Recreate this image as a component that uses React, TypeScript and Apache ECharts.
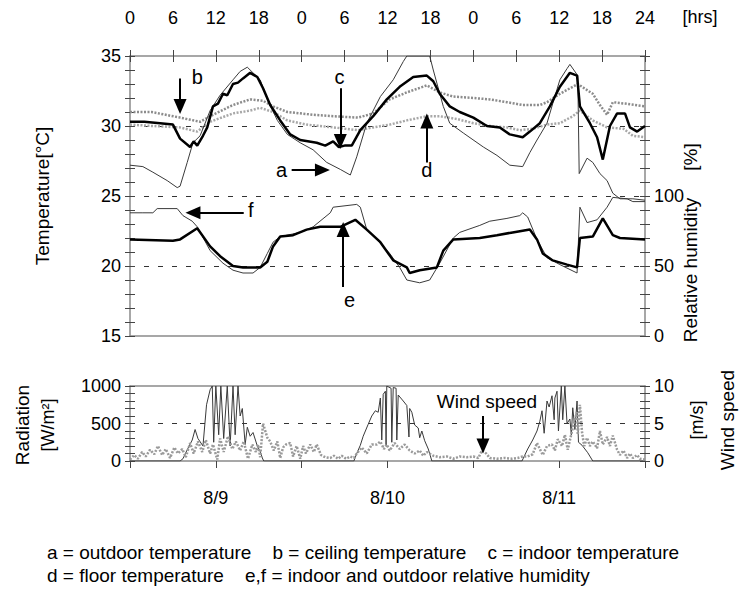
import React, { useEffect, useRef } from 'react';
import * as echarts from 'echarts';

const FONT = "'Liberation Sans', Arial, Helvetica, sans-serif";

// ---- data: [hour since 8/9 00:00, value] ----
const outdoorTemp: [number, number][] = [
  [0, 27.2], [1.8, 27.1], [3.2, 26.7], [5.2, 26.1], [6.6, 25.6], [7, 25.7], [8, 27.4], [8.8, 28.8], [9.8, 29.3],
  [11.2, 31.1], [12.6, 32.2], [14.4, 33.3], [15.4, 33.9], [16.4, 34.2], [17.2, 33.8], [18.2, 33.3], [19.2, 31.9],
  [20.6, 30.4], [22, 29.4], [23.8, 28.8], [25.6, 28.3], [27.5, 27.4], [29.4, 26.9], [30.8, 26.5], [31.7, 27.8],
  [33.1, 30.2], [35, 32.1], [36.8, 33.3], [38.2, 34.6], [38.7, 35], [41.9, 35], [42.4, 34], [43.8, 31.4],
  [44.7, 30.2], [46.6, 29.5], [49.4, 28.5], [51.3, 27.9], [53.1, 27.2], [54.9, 27.1], [55.9, 28.1], [56.9, 29],
  [58.3, 30.2], [59.1, 31.6], [60.1, 33.3], [61.1, 34.1], [61.5, 34.4], [62.6, 33.6], [62.8, 26.6], [63.9, 27.7],
  [64.7, 27.4], [65.7, 26.6], [66.7, 26.1], [67.5, 25.2], [68.5, 24.8], [70.3, 24.8], [72, 24.7],
];
const ceilingTemp: [number, number][] = [
  [0, 31.0], [3, 31.0], [7, 30.6], [9.8, 30.3], [11.6, 30.8], [14.4, 31.5], [16.8, 31.9], [18.6, 31.8], [20, 31.4],
  [22, 31.0], [25.6, 30.8], [28.4, 30.7], [31.9, 30.6], [34, 30.9], [36.3, 31.9], [38.7, 32.4], [41.5, 32.9],
  [43.3, 32.4], [45.2, 32.1], [48, 32.0], [50.3, 31.9], [52.7, 31.7], [54.9, 31.5], [57.3, 31.5], [58.3, 31.7],
  [60.1, 32.3], [61.9, 32.8], [62.6, 33.0], [64.7, 32.3], [65.7, 31.5], [66.7, 30.8], [67.5, 31.7], [69.2, 31.6],
  [72, 31.4],
];
const floorTemp: [number, number][] = [
  [0, 30.1], [3.2, 30.0], [7, 29.9], [9.4, 29.6], [11.2, 30.3], [14.4, 30.9], [16.8, 31.1], [18.2, 31.3], [20, 31.0],
  [22, 30.4], [24.7, 30.1], [28.4, 29.9], [31.9, 29.7], [34, 29.9], [36.3, 30.1], [38.7, 30.4], [41.5, 30.7],
  [43.3, 30.7], [45.7, 30.5], [48, 30.2], [50.3, 30.0], [52.7, 29.9], [54.5, 29.7], [56.3, 29.8], [58.3, 30.1],
  [60.1, 30.2], [61.9, 30.7], [62.9, 31.1], [64.7, 30.4], [66.7, 29.9], [69, 29.8], [70.3, 29.3], [72, 29.2],
];
const indoorTemp: [number, number][] = [
  [0, 30.3], [2, 30.3], [4.2, 30.2], [6, 30.1], [7, 29.1], [8.4, 28.5], [8.9, 28.9], [9.4, 28.6], [10.2, 29.3],
  [10.8, 29.9], [11.6, 31.4], [12.3, 31.6], [13, 32.3], [13.6, 32.2], [14.4, 33.0], [15.1, 33.1], [15.8, 33.4],
  [16.8, 33.8], [17.8, 33.5], [18.6, 32.7], [19.6, 31.5], [21, 30.4], [22.4, 29.4], [23.8, 29.0], [26.1, 28.8],
  [27.3, 28.6], [28.4, 28.9], [29.2, 28.5], [30, 28.6], [31, 28.6], [32.2, 29.7], [34, 30.7], [35.9, 31.9],
  [37.7, 32.8], [39.6, 33.5], [41.5, 33.6], [42.4, 33.2], [43.3, 32.3], [44.7, 31.4], [46.1, 31.0], [48, 30.6],
  [49.9, 30.0], [51.7, 29.9], [53.1, 29.4], [54.9, 29.2], [55.9, 29.6], [57.3, 30.2], [58.7, 31.4], [60.1, 32.8],
  [61.5, 33.8], [62.5, 33.6], [62.9, 31.4], [64.3, 30.2], [65.3, 29.2], [66.1, 27.6], [67.1, 30.0], [68.1, 30.9],
  [69.2, 30.9], [69.9, 29.9], [70.9, 29.6], [72, 30.0],
];
const indoorRH: [number, number][] = [
  [0, 69], [6, 68], [7, 69], [9.4, 77], [11.2, 64], [12.6, 57], [14.4, 50], [15.8, 49], [18.2, 49], [19.2, 53],
  [20, 64], [21, 71], [22.8, 72], [24.7, 76], [26.6, 78], [29.4, 78], [31.5, 83], [33.1, 76], [35, 67], [36.8, 54],
  [38.7, 49], [39.1, 45], [40.5, 47], [42.9, 49], [43.8, 61], [45.2, 69], [48.9, 70], [51.3, 72], [53.5, 74],
  [55.9, 76], [56.9, 69], [57.7, 59], [59.1, 54], [61.1, 51], [62.5, 49], [62.9, 70], [64.7, 71], [66.1, 84],
  [67.5, 72], [68.5, 70], [72, 69],
];
const outdoorRH: [number, number][] = [
  [0, 88], [1.8, 88], [3.2, 88], [3.8, 91], [6.6, 91], [7.4, 86], [8.7, 82], [9.4, 78], [11.2, 61], [13, 52],
  [14.4, 47], [15.8, 45], [17.2, 45], [18.2, 49], [19.2, 59], [20, 67], [21, 71], [23.8, 74], [25.6, 78], [28, 88],
  [28.4, 92], [31.7, 94], [32.2, 92], [33.1, 76], [34.5, 69], [36.3, 59], [37.7, 49], [38.7, 40], [40.5, 38],
  [41.9, 40], [43.3, 52], [45.2, 70], [46.1, 74], [48.9, 79], [50.3, 82], [52.7, 84], [54.5, 86], [54.9, 88],
  [55.6, 85], [56.9, 69], [58.3, 56], [60.1, 51], [62.5, 45], [62.9, 92], [63.9, 81], [65.3, 83], [66.7, 92],
  [67.5, 99], [69.5, 98], [70.3, 96], [72, 96],
];
const radiation: [number, number][] = [
  [0, 0], [7, 0], [7.4, 30], [8, 150], [8.7, 280], [9.1, 420], [9.5, 300], [10.2, 200], [10.7, 750], [11.2, 950],
  [11.5, 1000], [11.7, 250], [12, 1000], [12.4, 350], [12.7, 1000], [13.1, 300], [13.6, 1000], [14, 200],
  [14.4, 1000], [14.7, 350], [15.1, 1000], [15.4, 600], [15.7, 700], [16.1, 220], [16.4, 450], [16.8, 330],
  [17.2, 380], [17.8, 200], [18.2, 130], [18.5, 40], [18.7, 0], [31.3, 0], [31.7, 100], [32.2, 210], [32.6, 330],
  [33.3, 490], [33.8, 600], [34.3, 670], [34.7, 650], [35, 840], [35.2, 280], [35.4, 890], [35.7, 930], [35.8, 210],
  [35.9, 1000], [36.5, 970], [36.6, 250], [36.8, 980], [37.2, 970], [37.3, 280], [37.5, 880], [38.2, 800],
  [38.7, 740], [39, 320], [39.1, 700], [39.4, 650], [39.8, 480], [40.3, 440], [40.5, 310], [40.8, 400], [41.2, 270],
  [41.7, 160], [42.2, 0], [54.8, 0], [55.6, 160], [56.3, 280], [56.9, 400], [57.3, 530], [57.6, 670], [57.9, 370],
  [58.3, 800], [58.6, 720], [59, 870], [59.3, 550], [59.4, 840], [59.7, 930], [59.9, 400], [60.3, 1000], [60.5, 550],
  [60.8, 1000], [61.1, 500], [61.5, 560], [61.7, 350], [61.9, 710], [62.2, 420], [62.5, 800], [62.7, 250],
  [63.2, 210], [63.6, 160], [64, 110], [64.7, 0], [72, 0],
];
const windSpeed: [number, number][] = [
  [0, 0.2], [0.6, 0.8], [1.1, 0.3], [1.7, 1.2], [2.2, 0.6], [2.8, 1.5], [3.4, 0.9], [3.9, 2.0], [4.5, 0.8], [5, 1.6],
  [5.6, 0.4], [6.2, 1.8], [6.7, 1.0], [7.3, 1.6], [7.8, 0.5], [8.4, 2.4], [8.9, 1.0], [9.5, 2.6], [10.1, 1.2],
  [10.6, 2.8], [11.2, 1.0], [11.6, 2.2], [12.2, 0.2], [12.6, 3.0], [13.1, 1.2], [13.7, 3.3], [14.3, 1.6], [14.8, 2.6],
  [15.4, 1.4], [15.9, 2.6], [16.5, 0.3], [17.1, 2.2], [17.6, 1.2], [17.9, 2.2], [18.2, 0.5], [18.6, 5.0], [19.2, 3.1],
  [19.6, 2.6], [20.1, 1.4], [20.6, 2.6], [21, 0.4], [21.4, 1.8], [21.8, 2.2], [22.4, 2.4], [22.8, 0.6], [23.3, 2.0],
  [23.8, 0.3], [24.2, 2.0], [24.6, 1.0], [25.2, 2.2], [25.7, 1.2], [26.1, 2.2], [26.7, 0.8], [27.3, 0.5], [28, 0.4],
  [28.5, 0.7], [29.1, 0.3], [29.6, 0.7], [30.2, 0.3], [30.8, 0.6], [31.3, 0.4], [31.7, 1.0], [32.4, 1.8], [33.1, 1.0],
  [33.8, 2.2], [34.5, 2.2], [35, 2.6], [35.5, 1.6], [35.9, 2.2], [36.3, 1.4], [37, 2.4], [37.7, 1.6], [38.4, 2.2],
  [39.1, 1.4], [39.8, 1.0], [40.5, 1.4], [41, 0.7], [41.5, 1.2], [42.4, 0.7], [43.3, 0.5], [44.3, 0.6], [45.2, 0.3],
  [46.1, 0.6], [47.1, 0.5], [48, 0.6], [48.7, 0.4], [49.2, 1.4], [49.8, 1.0], [50.3, 0.4], [51.3, 0.3], [52.4, 0.4],
  [53.4, 0.3], [54.2, 0.4], [54.9, 0.6], [55.6, 0.6], [56.3, 0.9], [56.9, 2.4], [57.3, 1.6], [57.7, 0.8], [58.3, 2.0],
  [59, 2.2], [59.4, 1.4], [59.8, 2.9], [60.4, 2.0], [60.8, 3.5], [61.2, 1.5], [61.8, 4.0], [62.2, 5.6], [62.5, 6.5],
  [62.6, 3.5], [62.9, 7.5], [63.2, 3.8], [63.5, 2.0], [63.9, 3.1], [64.3, 2.0], [64.7, 2.6], [65.3, 1.7], [65.7, 4.0],
  [66.1, 2.2], [66.7, 3.2], [67.1, 2.0], [67.5, 3.4], [68.1, 1.5], [68.5, 0.8], [69, 1.4], [69.5, 0.4], [69.9, 1.0],
  [70.3, 0.4], [70.9, 0.8], [71.3, 0.3], [72, 0.2],
];

const dateLabels: Record<number, string> = { 12: '8/9', 36: '8/10', 60: '8/11' };

const legendLine1 = ['a = outdoor temperature', 'b = ceiling temperature', 'c = indoor temperature'];
const legendLine2 = ['d = floor temperature', 'e,f = indoor and outdoor relative humidity'];

// annotation arrows (data coords, on temperature axis) and letters
const tempArrows: [number, number, number, number][] = [
  [7, 33.4, 7, 31.4],      // b
  [29.4, 32.7, 29.4, 28.9], // c
  [22.6, 26.86, 26.9, 26.86], // a
  [41.5, 27.4, 41.5, 30.35], // d
  [15.9, 23.8, 8.8, 23.8],  // f
  [29.8, 18.5, 29.8, 22.6], // e
];
const tempLetters: [string, number, number][] = [
  ['b', 9.4, 33.5], ['c', 29.3, 33.5], ['a', 21.2, 26.86], ['d', 41.5, 26.86], ['f', 16.9, 24.0], ['e', 30.7, 17.6],
];

const AX = '#8a8a8a';
const TK = '#444';
const NB = '\u00a0\u00a0\u00a0\u00a0';

function yAxisDef(gridIndex: number, pos: 'left' | 'right', min: number, max: number, interval: number, inside: boolean, fmt: ((v: number) => string) | null, splitColors: string[] | null) {
  return {
    type: 'value', gridIndex, position: pos, min, max, interval,
    axisLine: { show: !inside, onZero: false, lineStyle: { color: AX, width: 1.5 } },
    axisTick: { show: true, inside, length: 5, lineStyle: { color: TK, width: 1 } },
    minorTick: { show: true, splitNumber: 5, length: 5, lineStyle: { color: TK, width: 1 } },
    axisLabel: { show: !inside && !!fmt, formatter: fmt || undefined, color: '#000', fontSize: 18, fontFamily: FONT, margin: 9 },
    splitLine: splitColors && !inside ? { show: true, lineStyle: { color: splitColors, type: [5, 9], width: 1 } } : { show: false },
    minorSplitLine: { show: false },
  };
}

function txt(text: string, x: number, y: number, size: number, rot: number, align = 'center') {
  return {
    type: 'text', x, y, rotation: rot,
    style: { text, font: `${size}px ${FONT}`, fill: '#000', align, verticalAlign: 'middle' },
  };
}

export default function App() {
  const ref = useRef<HTMLDivElement>(null);
  useEffect(() => {
    document.body.style.margin = '0';
    const chart = echarts.init(ref.current!, null, { renderer: 'svg' });
    const T = 'rgba(0,0,0,0)';
    const R = Math.PI / 2;
    const option: any = {
      animation: false,
      backgroundColor: '#fff',
      textStyle: { fontFamily: FONT },
      grid: [
        { left: 130, top: 56, width: 515, height: 280 },
        { left: 130, top: 386, width: 515, height: 75 },
      ],
      xAxis: [
        {
          type: 'value', gridIndex: 0, position: 'top', min: 0, max: 72, interval: 6,
          axisLine: { onZero: false, lineStyle: { color: AX, width: 1.5 } },
          axisTick: { inside: false, length: 6, lineStyle: { color: TK } },
          axisLabel: { formatter: (v: number) => (v === 72 ? '24' : String(v % 24)), color: '#000', fontSize: 18, fontFamily: FONT, margin: 29 },
          splitLine: { show: false },
        },
        {
          type: 'value', gridIndex: 0, position: 'top', min: 0, max: 72, interval: 6,
          axisLine: { show: false, onZero: false },
          axisTick: { inside: true, length: 6, lineStyle: { color: TK } },
          axisLabel: { show: false }, splitLine: { show: false },
        },
        {
          type: 'value', gridIndex: 0, position: 'bottom', min: 0, max: 72,
          axisLine: { onZero: false, lineStyle: { color: AX, width: 1.5 } },
          axisTick: { show: false }, axisLabel: { show: false }, splitLine: { show: false },
        },
        {
          type: 'value', gridIndex: 1, position: 'bottom', min: 0, max: 72, interval: 12,
          axisLine: { onZero: false, lineStyle: { color: AX, width: 1.5 } },
          axisTick: { inside: false, length: 7, lineStyle: { color: TK } },
          axisLabel: { formatter: (v: number) => dateLabels[v] || '', color: '#000', fontSize: 18, fontFamily: FONT, margin: 28 },
          splitLine: { show: false },
        },
        {
          type: 'value', gridIndex: 1, position: 'top', min: 0, max: 72,
          axisLine: { onZero: false, lineStyle: { color: AX, width: 1.5 } },
          axisTick: { show: false }, axisLabel: { show: false }, splitLine: { show: false },
        },
      ],
      yAxis: [
        yAxisDef(0, 'left', 15, 35, 5, false, (v) => String(v), [T, '#333', '#333', '#333', T]),
        yAxisDef(0, 'right', 0, 200, 50, false, (v) => (v <= 100 ? String(v) : ''), null),
        yAxisDef(0, 'left', 15, 35, 5, true, null, null),
        yAxisDef(0, 'right', 0, 200, 50, true, null, null),
        yAxisDef(1, 'left', 0, 1000, 500, false, (v) => String(v), [T, '#333', T]),
        yAxisDef(1, 'right', 0, 10, 5, false, (v) => String(v), null),
        yAxisDef(1, 'left', 0, 1000, 500, true, null, null),
        yAxisDef(1, 'right', 0, 10, 5, true, null, null),
      ],
      series: [
        {
          name: 'floor temperature', type: 'line', xAxisIndex: 0, yAxisIndex: 0, data: floorTemp, showSymbol: false,
          lineStyle: { color: '#a8a8a8', width: 2.5, type: [2, 1.5] },
        },
        {
          name: 'ceiling temperature', type: 'line', xAxisIndex: 0, yAxisIndex: 0, data: ceilingTemp, showSymbol: false,
          lineStyle: { color: '#8c8c8c', width: 2.5, type: [2, 1.5] },
        },
        {
          name: 'outdoor temperature', type: 'line', xAxisIndex: 0, yAxisIndex: 0, data: outdoorTemp, showSymbol: false,
          lineStyle: { color: '#3a3a3a', width: 1 },
        },
        {
          name: 'outdoor relative humidity', type: 'line', xAxisIndex: 0, yAxisIndex: 1, data: outdoorRH, showSymbol: false,
          lineStyle: { color: '#3a3a3a', width: 1 },
        },
        {
          name: 'indoor relative humidity', type: 'line', xAxisIndex: 0, yAxisIndex: 1, data: indoorRH, showSymbol: false,
          lineStyle: { color: '#000', width: 2.5 },
        },
        {
          name: 'indoor temperature', type: 'line', xAxisIndex: 0, yAxisIndex: 0, data: indoorTemp, showSymbol: false,
          lineStyle: { color: '#000', width: 2.5 },
          markLine: {
            silent: true, symbol: ['none', 'triangle'], symbolSize: [13, 15], precision: 3,
            lineStyle: { color: '#000', width: 2, type: 'solid' }, label: { show: false },
            data: tempArrows.map((a) => [{ coord: [a[0], a[1]] }, { coord: [a[2], a[3]] }]),
          },
          markPoint: {
            silent: true, symbol: 'circle', symbolSize: 1, itemStyle: { color: T },
            label: { show: true, position: 'inside', formatter: (p: any) => p.name, color: '#000', fontSize: 20, fontFamily: FONT },
            data: tempLetters.map((l) => ({ name: l[0], coord: [l[1], l[2]] })),
          },
        },
        {
          name: 'radiation', type: 'line', xAxisIndex: 3, yAxisIndex: 4, data: radiation, showSymbol: false,
          lineStyle: { color: '#3a3a3a', width: 1 },
        },
        {
          name: 'wind speed', type: 'line', xAxisIndex: 3, yAxisIndex: 5, data: windSpeed, showSymbol: false,
          lineStyle: { color: '#9a9a9a', width: 2.5, type: [2, 1.5] },
          markLine: {
            silent: true, symbol: ['none', 'triangle'], symbolSize: [13, 15], precision: 3,
            lineStyle: { color: '#000', width: 2, type: 'solid' }, label: { show: false },
            data: [[{ coord: [49.35, 6.0] }, { coord: [49.35, 2.0] }]],
          },
          markPoint: {
            silent: true, symbol: 'circle', symbolSize: 1, itemStyle: { color: T },
            label: { show: true, position: 'inside', formatter: (p: any) => p.name, color: '#000', fontSize: 19, fontFamily: FONT },
            data: [{ name: 'Wind speed', coord: [49.9, 7.9] }],
          },
        },
      ],
      graphic: [
        txt('[hrs]', 700, 17, 18, 0),
        txt('Temperature[°C]', 42, 196, 19, R),
        txt('[%]', 690, 157, 19, R),
        txt('Relative humidity', 690, 270, 19, R),
        txt('Radiation', 22, 425, 19, R),
        txt('[W/m²]', 48, 425, 18, R),
        txt('[m/s]', 697, 420, 18, R),
        txt('Wind speed', 727, 420, 19, R),
        txt(legendLine1.join(NB), 47, 552, 19, 0, 'left'),
        txt(legendLine2.join(NB), 47, 575, 19, 0, 'left'),
      ],
    };
    chart.setOption(option);
    return () => chart.dispose();
  }, []);
  return <div ref={ref} style={{ width: 740, height: 593 }} />;
}
